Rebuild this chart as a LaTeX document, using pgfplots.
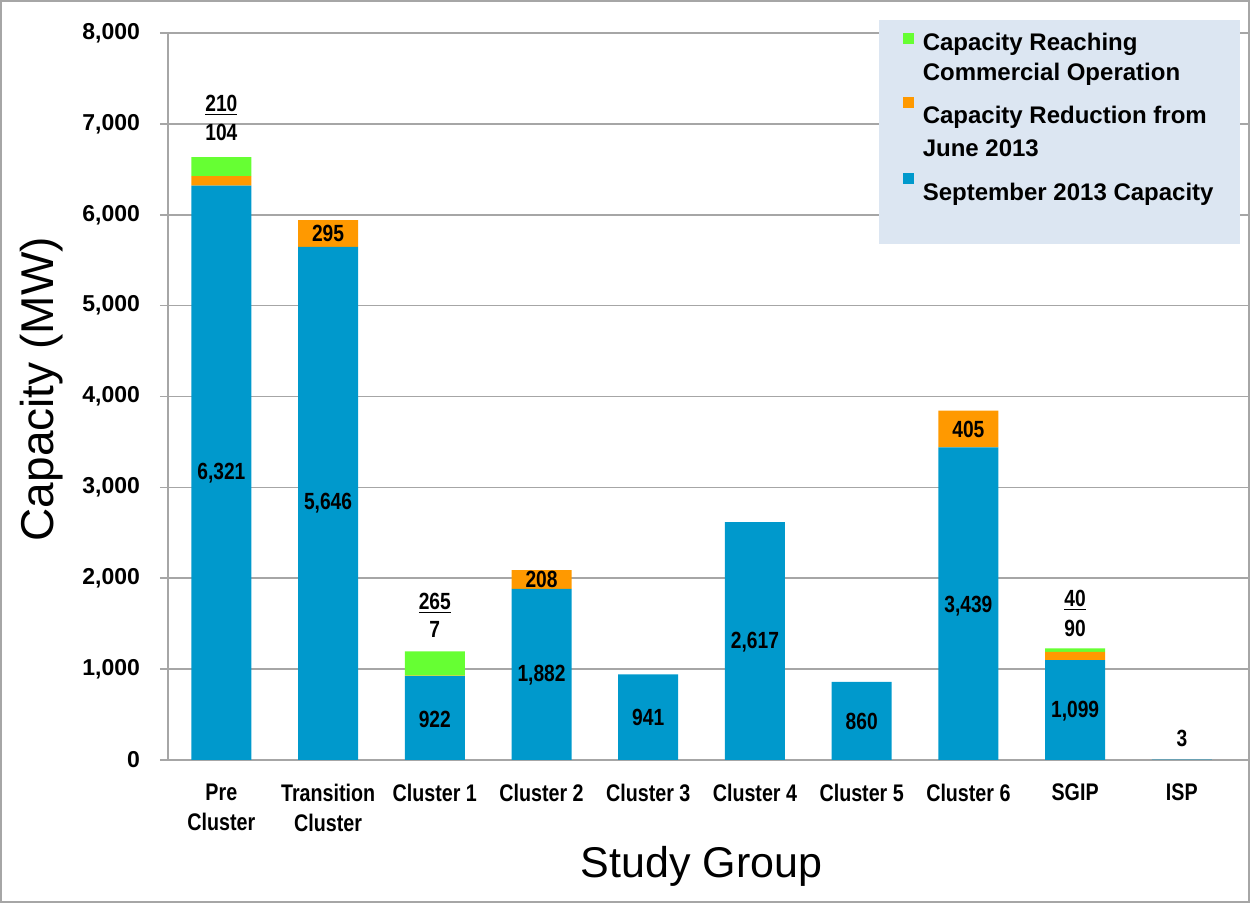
\documentclass[border=0pt]{standalone}
\usepackage{pgfplots}
\pgfplotsset{compat=1.18}
\usepackage{pgfplotstable}
\usepackage{fontspec}
\setmainfont{Liberation Sans}
\newfontfamily\nb[FakeStretch=0.82]{Liberation Sans}
\definecolor{cblue}{RGB}{0,153,204}
\definecolor{corange}{RGB}{255,153,0}
\definecolor{cgreen}{RGB}{102,255,51}
\definecolor{legbg}{RGB}{220,230,242}
\definecolor{gridc}{RGB}{166,166,166}
\newcommand{\bl}{\nb\bfseries\fontsize{11.7}{14}\selectfont}

\pgfplotstableread{
x blue orange green
0 6321 104 210
1 5646 295 0
2 922 7 265
3 1882 208 0
4 941 0 0
5 2617 0 0
6 860 0 0
7 3439 405 0
8 1099 90 40
9 3 0 0
}\data

\begin{document}
\begin{tikzpicture}
\useasboundingbox (0,0) rectangle (625pt,451.5pt);
\draw[gray!70, line width=0.6pt] (0.5pt,0.5pt) rectangle (624.5pt,451pt);
\begin{axis}[
  at={(84pt,71.5pt)}, anchor=south west,
  scale only axis, width=540pt, height=363.5pt,
  ybar stacked, bar width=30pt,
  xmin=-0.5, xmax=9.62, ymin=0, ymax=8000,
  ytick={0,1000,...,8000},
  xtick={0,...,9},
  xticklabels={{Pre\\Cluster},{Transition\\Cluster},Cluster 1,Cluster 2,Cluster 3,Cluster 4,Cluster 5,Cluster 6,SGIP,ISP},
  xticklabel style={align=center, font=\nb\bfseries\fontsize{12}{15}\selectfont, yshift=-4.5pt},
  yticklabel style={font=\bfseries\fontsize{11.5}{13}\selectfont, xshift=-6.5pt},
  /pgf/number format/assume math mode=true,
  /pgf/number format/1000 sep={,},
  axis x line*=bottom, axis y line*=left,
  axis line style={gridc, line width=1pt},
  tick align=outside, major tick length=4pt,
  ytick style={gridc, line width=0.8pt},
  xtick style={draw=none},
  ymajorgrids, grid style={gridc, line width=0.8pt},
  xlabel={Study Group}, ylabel={Capacity (MW)},
  every axis x label/.style={at={(rel axis cs:0.494,-0.147)}, anchor=center, font=\fontsize{21.5}{24}\selectfont},
  every axis y label/.style={at={(rel axis cs:-0.1167,0.51)}, anchor=center, rotate=90, font=\fontsize{23}{26}\selectfont},
  legend style={at={(0.9926,1.018)}, anchor=north east, fill=legbg, draw=none,
    font=\bfseries\fontsize{12}{15.5}\selectfont, inner xsep=11pt, inner ysep=4pt, row sep=0pt,
    nodes={inner ysep=0pt, inner xsep=2pt}},
  legend cell align=left,
  legend image code/.code={\fill[#1,draw=none] (1pt,-1.5pt) rectangle (6.5pt,4pt); \path[draw=none,fill=none] (0pt,0pt) rectangle (9pt,0.1pt);},
]
\addplot[fill=cblue, draw=none, forget plot] table[x=x,y=blue]{\data};
\addplot[fill=corange, draw=none, forget plot] table[x=x,y=orange]{\data};
\addplot[fill=cgreen, draw=none, forget plot] table[x=x,y=green]{\data};

\addlegendimage{fill=cgreen}
\addlegendentry{\strut Capacity Reaching}
\addlegendimage{empty legend}
\addlegendentry{\rule{0pt}{13.85pt}Commercial Operation}
\addlegendimage{fill=corange}
\addlegendentry{\rule{0pt}{19.85pt}Capacity Reduction from}
\addlegendimage{empty legend}
\addlegendentry{\rule{0pt}{14.85pt}June 2013}
\addlegendimage{fill=cblue}
\addlegendentry{\rule{0pt}{20.85pt}September 2013 Capacity}
\addlegendimage{empty legend}
\addlegendentry{\rule{0pt}{14.35pt}}

% label anchor points (labels drawn after the axis, on top of the bars)
\coordinate (l0) at (axis cs:0,3160);
\coordinate (l1) at (axis cs:1,2823);
\coordinate (l2) at (axis cs:2,450);
\coordinate (l3) at (axis cs:3,930);
\coordinate (l4) at (axis cs:4,465);
\coordinate (l5) at (axis cs:5,1300);
\coordinate (l6) at (axis cs:6,425);
\coordinate (l7) at (axis cs:7,1690);
\coordinate (l8) at (axis cs:8,540);
\coordinate (l9) at (axis cs:9,242);
\coordinate (o1) at (axis cs:1,5793);
\coordinate (o3) at (axis cs:3,1986);
\coordinate (o7) at (axis cs:7,3641);
\coordinate (g0) at (axis cs:0,7208);
\coordinate (r0) at (axis cs:0,6911);
\coordinate (g2) at (axis cs:2,1728);
\coordinate (r2) at (axis cs:2,1431);
\coordinate (g8) at (axis cs:8,1761);
\coordinate (r8) at (axis cs:8,1453);
\end{axis}
\begin{scope}[every node/.style={font=\bl}]
\node at (l0) {6,321};
\node at (l1) {5,646};
\node at (l2) {922};
\node at (l3) {1,882};
\node at (l4) {941};
\node at (l5) {2,617};
\node at (l6) {860};
\node at (l7) {3,439};
\node at (l8) {1,099};
\node at (l9) {3};
\node at (o1) {295};
\node at (o3) {208};
\node at (o7) {405};
\node at (g0) {\underline{210}};
\node at (r0) {104};
\node at (g2) {\underline{265}};
\node at (r2) {7};
\node at (g8) {\underline{40}};
\node at (r8) {90};
\end{scope}
\end{tikzpicture}
\end{document}
